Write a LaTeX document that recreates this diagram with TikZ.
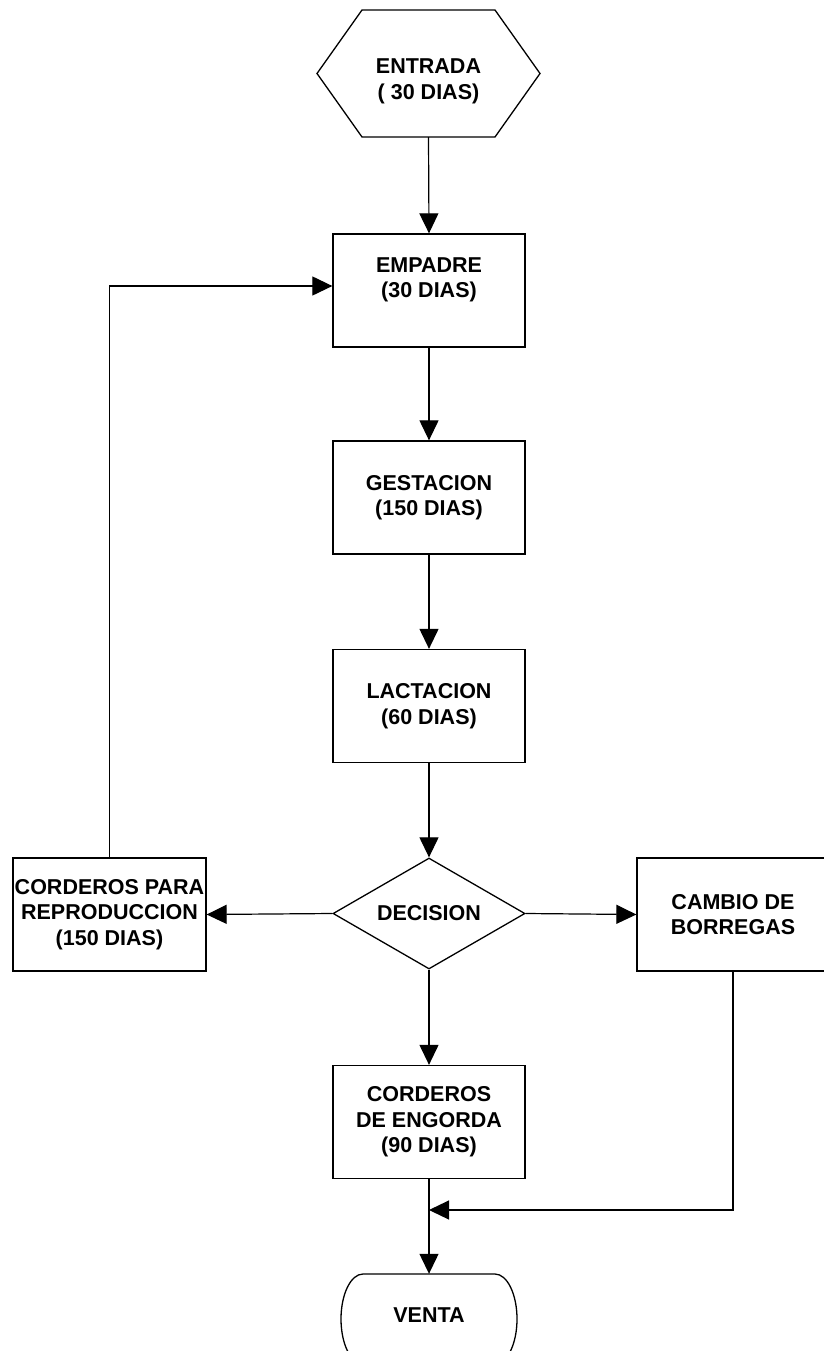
\documentclass[tikz,border=0pt]{standalone}
\usepackage{fontspec}
\setmainfont{Liberation Sans}
\usetikzlibrary{arrows.meta,shapes.geometric}
\begin{document}
\begin{tikzpicture}[x=1pt,y=-1pt,
 every node/.style={font=\fontsize{21.5}{25.5}\selectfont\bfseries, align=center, inner sep=0pt},
 box/.style={draw, line width=1.3pt, minimum width=192pt, minimum height=113pt},
 arr/.style={line width=1.2pt, -{Triangle[length=20pt,width=19pt]}},
 shp/.style={line width=1.3pt}]
\useasboundingbox (0,0) rectangle (823,1351);
\fill[white] (0,0) rectangle (823,1351);
% ENTRADA hexagon
\draw[shp] (317,73.5) -- (362,10) -- (495,10) -- (540,73.5) -- (495,137) -- (362,137) -- cycle;
\node[minimum width=223pt, minimum height=127pt] (entrada) at (428.5,73.5) {};
\node (entradaT) at (428.5,81.5) {ENTRADA\\( 30 DIAS)};
% boxes
\node[box] (empadre) at (429,290.5) {};
\node (empadreT) at (429,280) {EMPADRE\\(30 DIAS)};
\node[box] (gestacion) at (429,497.5) {GESTACION\\(150 DIAS)};
\node[box] (lactacion) at (429,706) {LACTACION\\(60 DIAS)};
\node[diamond, draw, line width=1.3pt, minimum width=192pt, minimum height=111pt, aspect=1.73] (decision) at (429,913.5) {DECISION};
\node[box, minimum width=193pt] (reprod) at (109.5,914.5) {CORDEROS PARA\\REPRODUCCION\\(150 DIAS)};
\node[box] (cambio) at (733,914.5) {CAMBIO DE\\BORREGAS};
\node[box] (engorda) at (429,1122) {CORDEROS\\DE ENGORDA\\(90 DIAS)};
% VENTA terminator
\draw[shp] (363,1274) -- (495,1274) arc[start angle=90,end angle=-90,x radius=22pt,y radius=45pt]
  -- (363,1364) arc[start angle=270,end angle=90,x radius=22pt,y radius=45pt] -- cycle;
\node[minimum width=176pt, minimum height=82pt] (venta) at (429,1315) {VENTA};
\coordinate (merge) at (429,1210);
% connectors
\draw[arr] (entrada.south) -- (empadre.north);
\draw[arr] (empadre.south) -- (gestacion.north);
\draw[arr] (gestacion.south) -- (lactacion.north);
\draw[arr] (lactacion.south) -- (decision.north);
\draw[arr] (decision.west) -- (reprod.east);
\draw[arr] (decision.east) -- (cambio.west);
\draw[arr] (decision.south) -- (engorda.north);
\draw[arr] (reprod.north) |- ([yshift=4.5pt]empadre.west);
\draw[arr] (engorda.south) -- (venta.north);
\draw[arr] (cambio.south) |- (merge);
\end{tikzpicture}
\end{document}
